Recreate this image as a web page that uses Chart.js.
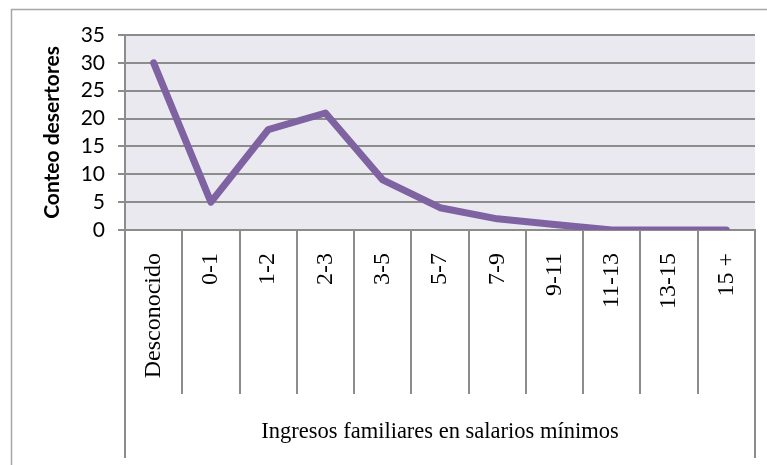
<!DOCTYPE html>
<html>
<head>
<meta charset="utf-8">
<script src="https://cdn.jsdelivr.net/npm/chart.js@4"></script>
<style>
  html, body { margin: 0; padding: 0; background: #fff; }
  #wrap { width: 767px; height: 465px; position: relative; }
</style>
</head>
<body>
<div id="wrap"><canvas id="myChart" width="767" height="465"></canvas></div>
<script>
const categories = ["Desconocido", "0-1", "1-2", "2-3", "3-5", "5-7", "7-9", "9-11", "11-13", "13-15", "15 +"];
const desertores = [30, 5, 18, 21, 9, 4, 2, 1, 0, 0, 0];
const yTicks = [0, 5, 10, 15, 20, 25, 30, 35];

const gridColor = "#8c8c8c";

// fondo gris del area de trazado, marco exterior y lineas largas de la tabla
const frame = {
  id: "frame",
  beforeDraw(chart) {
    const { ctx, chartArea } = chart;
    ctx.save();
    ctx.fillStyle = "#ebe9f0";
    ctx.fillRect(chartArea.left, chartArea.top, chartArea.right - chartArea.left, chartArea.bottom - chartArea.top);
    ctx.strokeStyle = "#a6a6a6";
    ctx.lineWidth = 1.5;
    ctx.strokeRect(11.5, 9.5, 900, 600);
    ctx.restore();
  },
  afterDraw(chart) {
    const { ctx, chartArea } = chart;
    const x = chart.scales.x;
    ctx.save();
    ctx.strokeStyle = gridColor;
    ctx.lineWidth = 2;
    ctx.beginPath();
    ctx.moveTo(chartArea.left, chartArea.bottom);
    ctx.lineTo(chartArea.left, x.bottom);
    ctx.moveTo(chartArea.right, chartArea.bottom);
    ctx.lineTo(chartArea.right, x.bottom);
    ctx.stroke();
    ctx.restore();
  },
};

new Chart(document.getElementById("myChart"), {
  type: "line",
  data: {
    labels: categories,
    datasets: [
      {
        label: "Conteo desertores",
        data: desertores,
        borderColor: "#7f62a1",
        borderWidth: 7,
        borderCapStyle: "round",
        borderJoinStyle: "round",
        pointRadius: 0,
        tension: 0,
      },
    ],
  },
  options: {
    responsive: false,
    animation: false,
    layout: { padding: { left: 0, top: 35, right: 12, bottom: 7 } },
    plugins: { legend: { display: false }, tooltip: { enabled: false } },
    scales: {
      x: {
        offset: true,
        afterFit(scale) { scale.height = 228; },
        grid: {
          offset: true,
          drawOnChartArea: false,
          drawTicks: true,
          tickLength: 164,
          color: gridColor,
          lineWidth: 2,
        },
        border: { display: true, color: gridColor, width: 2 },
        ticks: {
          minRotation: 90,
          maxRotation: 90,
          autoSkip: false,
          padding: -141,
          color: "#000",
          font: { family: "Liberation Serif", size: 24 },
        },
        title: {
          display: true,
          text: "Ingresos familiares en salarios mínimos",
          color: "#000",
          padding: { top: 0, bottom: 12 },
          font: { family: "Liberation Serif", size: 22.5 },
        },
      },
      y: {
        min: 0,
        max: 35,
        afterFit(scale) { scale.width = 125; },
        afterBuildTicks(scale) { scale.ticks = yTicks.map((v) => ({ value: v })); },
        grid: { color: gridColor, lineWidth: 2, tickLength: 7 },
        border: { display: true, color: gridColor, width: 2 },
        ticks: {
          autoSkip: false,
          padding: 13,
          color: "#000",
          font: { family: "Lato", size: 21 },
        },
        title: {
          display: true,
          text: "Conteo desertores",
          color: "#000",
          padding: { top: 40, bottom: 0 },
          font: { family: "Lato", size: 21, weight: "bold" },
        },
      },
    },
  },
  plugins: [frame],
});
</script>
</body>
</html>
